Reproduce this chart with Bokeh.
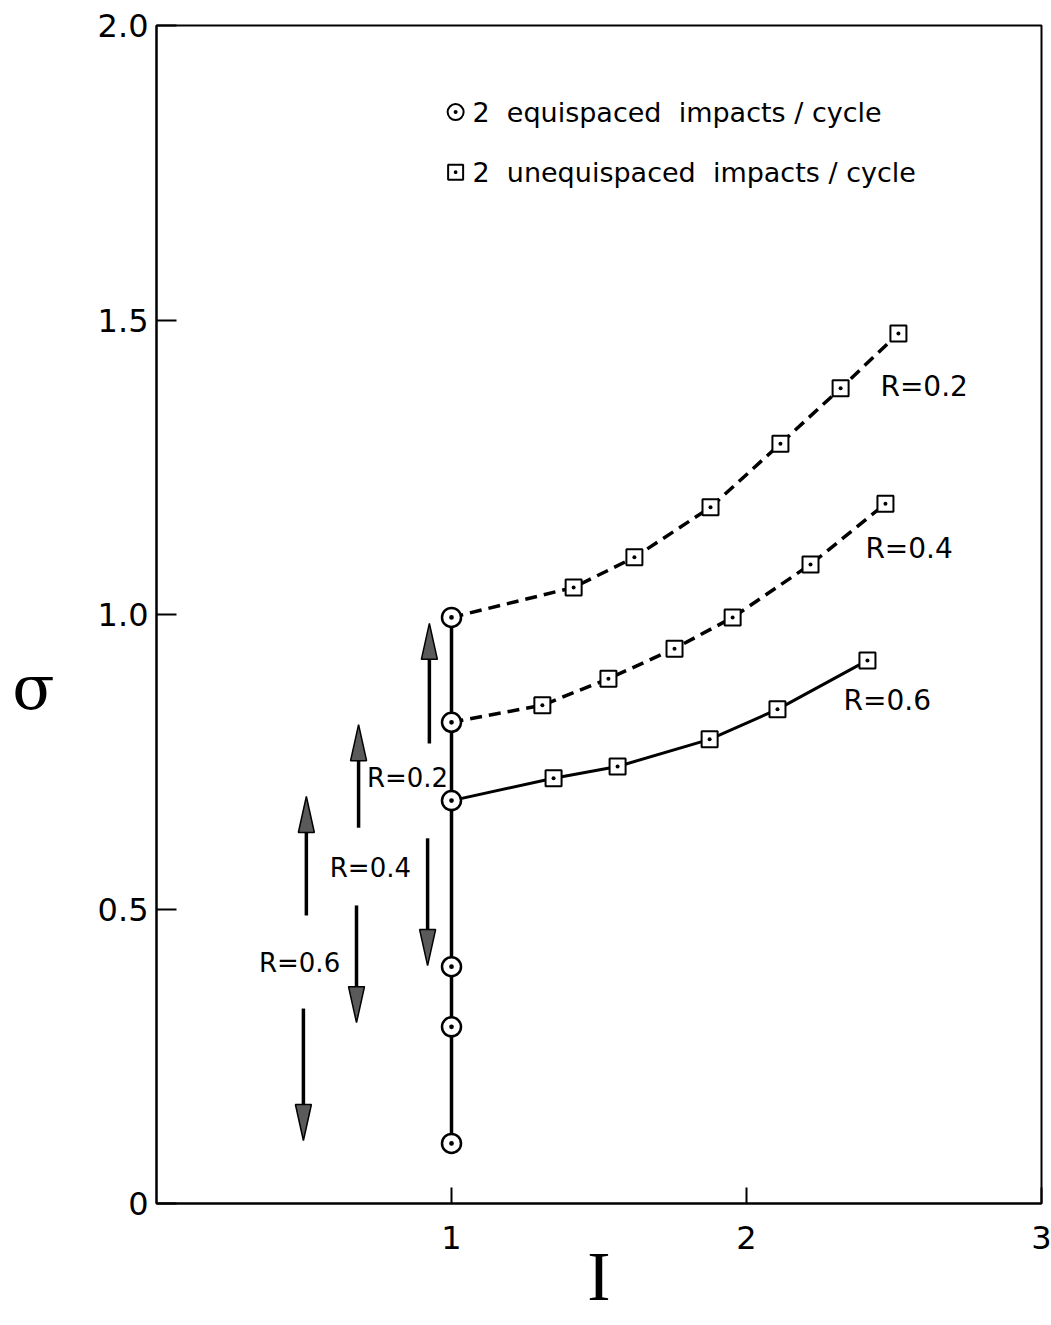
from bokeh.plotting import figure
from bokeh.models import FixedTicker
from bokeh.core.properties import value
from bokeh.embed import file_html
from bokeh.resources import INLINE

# ---- data ----
# 2 equispaced impacts / cycle (circles at I = 1)
I_equi = [1.0, 1.0, 1.0, 1.0, 1.0, 1.0]
s_equi = [0.995, 0.817, 0.684, 0.402, 0.300, 0.102]

# 2 unequispaced impacts / cycle (squares)
I_r02 = [1.414, 1.620, 1.878, 2.115, 2.319, 2.515]
s_r02 = [1.046, 1.097, 1.182, 1.290, 1.384, 1.477]
I_r04 = [1.308, 1.532, 1.756, 1.953, 2.217, 2.471]
s_r04 = [0.846, 0.891, 0.942, 0.995, 1.085, 1.188]
I_r06 = [1.346, 1.563, 1.875, 2.105, 2.410]
s_r06 = [0.722, 0.742, 0.788, 0.839, 0.922]

# curve start points (equispaced branch point for each R)
start_I = [1.0, 1.0, 1.0]
start_s = [0.995, 0.817, 0.684]
curve_labels = ["R=0.2", "R=0.4", "R=0.6"]
curve_label_I = [2.454, 2.403, 2.329]
curve_label_s = [1.387, 1.112, 0.854]

# range arrows (left side)
arrow_labels = ["R=0.2", "R=0.4", "R=0.6"]
arrow_label_I = [0.851, 0.725, 0.485]
arrow_label_s = [0.723, 0.569, 0.409]
up_I = [0.925, 0.685, 0.508]
up_tail = [0.781, 0.638, 0.489]
up_tip = [0.985, 0.813, 0.691]
dn_I = [0.919, 0.678, 0.498]
dn_tail = [0.620, 0.506, 0.331]
dn_tip = [0.404, 0.307, 0.107]

y_ticks = [0, 0.5, 1.0, 1.5, 2.0]
y_tick_labels = ["0", "0.5", "1.0", "1.5", "2.0"]
x_ticks = [1, 2, 3]
x_tick_labels = ["1", "2", "3"]

NB = "\u00a0"
legend_labels = ["2" + NB + " equispaced" + NB + " impacts / cycle",
                 "2" + NB + " unequispaced" + NB + " impacts / cycle"]

FONT = "DejaVu Sans"

p = figure(width=1051, height=1325, x_range=(0, 3), y_range=(0, 2),
           output_backend="svg", toolbar_location=None,
           min_border_left=156, min_border_right=10,
           min_border_top=25, min_border_bottom=122)
p.background_fill_color = "white"
p.border_fill_color = "white"
p.xgrid.visible = False
p.ygrid.visible = False
p.outline_line_color = "black"
p.outline_line_width = 2
p.outline_line_alpha = 1

p.yaxis.ticker = FixedTicker(ticks=y_ticks)
p.yaxis.major_label_overrides = {t: l for t, l in zip(y_ticks, y_tick_labels)}
p.xaxis.ticker = FixedTicker(ticks=x_ticks)
p.xaxis.major_label_overrides = {t: l for t, l in zip(x_ticks, x_tick_labels)}
for ax in (p.xaxis[0], p.yaxis[0]):
    ax.axis_line_width = 2
    ax.axis_line_color = "black"
    ax.major_tick_line_width = 2
    ax.major_tick_line_color = "black"
    ax.major_tick_out = 0
    ax.minor_tick_line_color = None
    ax.major_label_text_font = FONT
    ax.major_label_text_font_size = "32px"
    ax.major_label_text_color = "black"
    ax.axis_label_text_font_style = "normal"
    ax.axis_label_text_color = "black"
p.yaxis.major_tick_in = 20
p.yaxis.major_label_standoff = 8
p.xaxis.major_tick_in = 16
p.xaxis.major_label_standoff = 22

p.xaxis.axis_label = "I"
p.xaxis.axis_label_text_font = "Liberation Serif"
p.xaxis.axis_label_text_font_size = "70px"
p.xaxis.axis_label_standoff = -14

p.yaxis.axis_label = NB + "\n" + NB + "\nσ"
p.yaxis.axis_label_orientation = "horizontal"
p.yaxis.axis_label_text_font = "DejaVu Serif"
p.yaxis.axis_label_text_font_size = "62px"
p.yaxis.axis_label_text_line_height = 1.0
p.yaxis.axis_label_standoff = 40

# vertical line of equispaced solutions
p.line(I_equi, s_equi, line_color="black", line_width=3.5)

# unequispaced branches
p.line(start_I[:1] + I_r02, start_s[:1] + s_r02, line_color="black", line_width=3.5, line_dash="12 7")
p.line(start_I[1:2] + I_r04, start_s[1:2] + s_r04, line_color="black", line_width=3.5, line_dash="12 7")
p.line(start_I[2:3] + I_r06, start_s[2:3] + s_r06, line_color="black", line_width=3)

sq_I = I_r02 + I_r04 + I_r06
sq_s = s_r02 + s_r04 + s_r06
p.scatter(sq_I, sq_s, marker="square_dot", size=16, line_color="black", line_width=2,
          fill_color="white")
p.scatter(I_equi, s_equi, marker="circle_dot", size=19, line_color="black", line_width=2.5,
          fill_color="white")

# curve labels
p.text(curve_label_I, curve_label_s, text=curve_labels, text_font=value(FONT),
       text_font_size="28px", text_align="left", text_baseline="middle", text_color="black")
p.text(arrow_label_I, arrow_label_s, text=arrow_labels, text_font=value(FONT),
       text_font_size="26px", text_align="center", text_baseline="middle", text_color="black")

# arrows
HL = 36 / 589.0   # head length in data units
HW = 8 / 295.0    # head half width in data units
for xs, tails, tips, sgn in ((up_I, up_tail, up_tip, 1), (dn_I, dn_tail, dn_tip, -1)):
    p.segment(x0=xs, y0=tails, x1=xs, y1=[t - sgn * HL for t in tips],
              line_color="black", line_width=3.5)
    px = [[x - HW, x, x + HW] for x in xs]
    py = [[t - sgn * HL, t, t - sgn * HL] for t in tips]
    p.patches(px, py, fill_color="#5a5a5a", line_color="black", line_width=1.5)

# legend (drawn in data space)
leg_I = [1.014, 1.014]
leg_s = [1.853, 1.751]
p.scatter(leg_I[:1], leg_s[:1], marker="circle_dot", size=16, line_color="black",
          line_width=2, fill_color="white")
p.scatter(leg_I[1:], leg_s[1:], marker="square_dot", size=15, line_color="black",
          line_width=2, fill_color="white")
p.text([1.071, 1.071], leg_s, text=legend_labels, text_font=value(FONT),
       text_font_size="27px", text_align="left", text_baseline="middle", text_color="black")

open("out.html", "w").write(file_html(p, INLINE))
